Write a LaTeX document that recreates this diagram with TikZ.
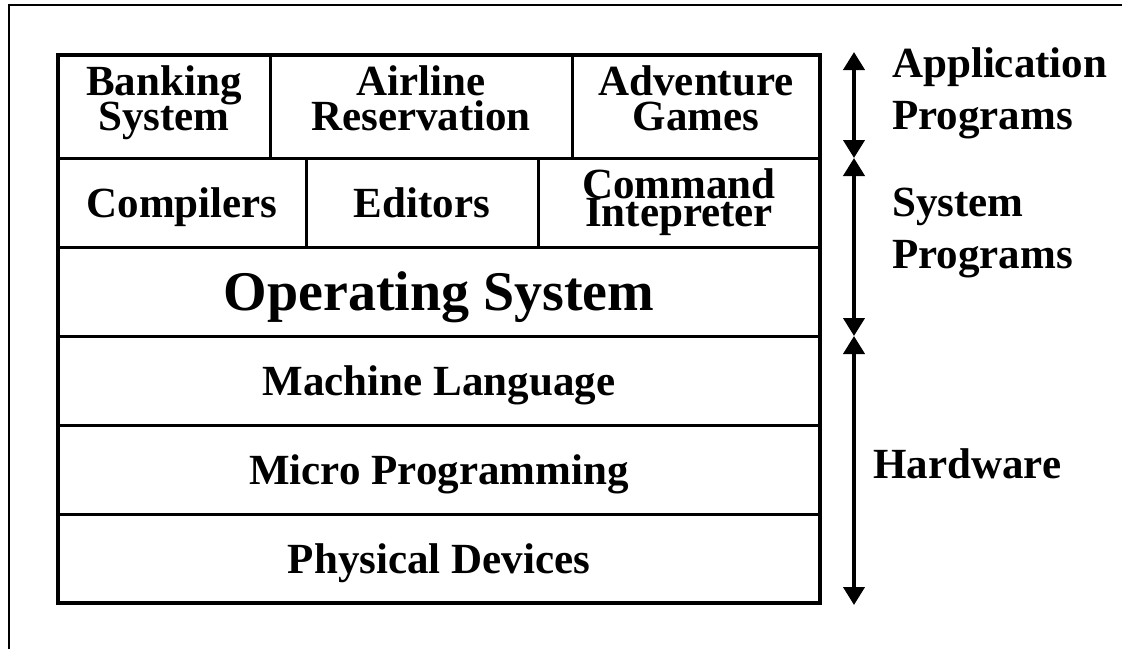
\documentclass[tikz,border=0pt]{standalone}
\usepackage{fontspec}
\setmainfont{Liberation Serif}
\usetikzlibrary{positioning,arrows.meta}
\lineskiplimit=-100pt

\tikzset{
	cell/.style={draw,
		line width=3pt,
		inner sep=0pt,
		outer sep=0pt,
		align=center,
		font=\fontsize{43}{35}\selectfont\bfseries
	},
	oneline/.style={text height=29pt,
		text depth=0pt
	},
	twoline/.style={execute at end node={\rule[-#1]{0pt}{#1}}},
	layer/.style={cell, oneline,
		minimum width=762pt,
		minimum height=89pt
	},
	sidelabel/.style={inner sep=0pt,
		align=left,
		font=\fontsize{43}{52}\selectfont\bfseries
	},
	bothway/.style={{Triangle[width=21pt,length=18pt]}-{Triangle[width=21pt,length=18pt]},
		line width=4pt
	}
}

\begin{document}
\begin{tikzpicture}[x=1pt,y=-1pt]
		\useasboundingbox (0,0) rectangle (1122,649);
		\draw[line width=2pt] (9,649) -- (9,5) -- (1122,5);

		% application programs
		\node[cell, twoline=17pt,
			anchor=north west,
			minimum width=212pt,
			minimum height=103pt
		] (banking) at (58,55) {Banking\\System};

		\node[cell, twoline=17pt,
			right=0pt of banking,
			minimum width=302pt,
			minimum height=103pt
		] (airline) {Airline\\Reservation};

		\node[cell, twoline=17pt,
			right=0pt of airline,
			minimum width=248pt,
			minimum height=103pt
		] (games) {Adventure\\Games};

		% system programs
		\node[cell, oneline,
			anchor=north west,
			minimum width=248pt,
			minimum height=89pt
		] (compilers) at (banking.south west) {Compilers};

		\node[cell, oneline,
			right=0pt of compilers,
			minimum width=232pt,
			minimum height=89pt
		] (editors) {Editors};

		\node[cell, twoline=9pt,
			right=0pt of editors,
			minimum width=282pt,
			minimum height=89pt,
			font=\fontsize{43}{28}\selectfont\bfseries
		] (shell) {Command\\Intepreter};

		% lower layers
		\node[layer,
			anchor=north west,
			text height=38pt,
			font=\fontsize{56}{60}\selectfont\bfseries
		] (os) at (compilers.south west) {Operating System};

		\node[layer, below=0pt of os] (machine) {Machine Language};
		\node[layer, below=0pt of machine] (micro) {Micro Programming};
		\node[layer, below=0pt of micro] (devices) {Physical Devices};

		\draw[line width=4pt] (banking.north west) rectangle (devices.south east);

		% range arrows
		\coordinate (arrtop) at (854,52);
		\coordinate (split1) at (arrtop |- games.south);
		\coordinate (split2) at (arrtop |- os.south);
		\coordinate (arrbot) at (854,605);

		\draw[bothway] (arrtop) -- (split1);
		\draw[bothway] (split1) -- (split2);
		\draw[bothway] (split2) -- (arrbot);

		\node[sidelabel, anchor=north west] (applabel) at (892,47) {Application\\Programs};
		\node[sidelabel, anchor=north west] (syslabel) at (892,188) {System\\Programs};
		\node[sidelabel, anchor=base west] (hwlabel) at (873,478) {Hardware};
	\end{tikzpicture}
\end{document}
